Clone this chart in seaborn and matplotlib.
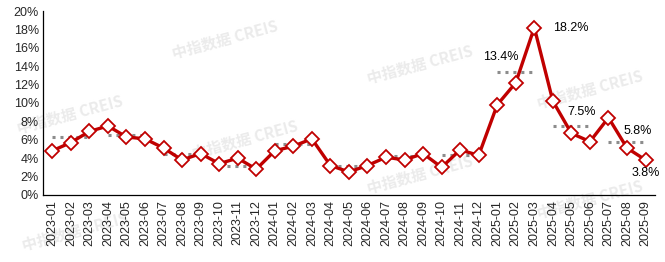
import numpy as np
import pandas as pd
import matplotlib
matplotlib.use("Agg")
import matplotlib.pyplot as plt
import seaborn as sns
from matplotlib.ticker import FixedLocator, PercentFormatter

months = ["2023-01", "2023-02", "2023-03", "2023-04", "2023-05", "2023-06",
          "2023-07", "2023-08", "2023-09", "2023-10", "2023-11", "2023-12",
          "2024-01", "2024-02", "2024-03", "2024-04", "2024-05", "2024-06",
          "2024-07", "2024-08", "2024-09", "2024-10", "2024-11", "2024-12",
          "2025-01", "2025-02", "2025-03", "2025-04", "2025-05", "2025-06",
          "2025-07", "2025-08", "2025-09"]
values = [4.8, 5.7, 6.9, 7.5, 6.3, 6.1, 5.1, 3.8, 4.5, 3.4, 4.0, 2.8,
          4.8, 5.3, 6.1, 3.2, 2.5, 3.2, 4.1, 3.8, 4.5, 3.0, 4.9, 4.3,
          9.8, 12.2, 18.2, 10.2, 6.7, 5.8, 8.4, 5.1, 3.8]
quarter_avg = [6.3, 6.5, 4.5, 3.2, 5.5, 3.1, 4.2, 4.3, 13.4, 7.5, 5.8]
label_texts = ["13.4%", "18.2%", "7.5%", "5.8%", "3.8%"]

sns.set_theme(style="white")
plt.rcParams["font.family"] = ["Liberation Sans", "Noto Sans CJK SC", "DejaVu Sans"]

df = pd.DataFrame({"idx": np.arange(len(months)), "month": months, "value": values})
avg_rows = []
for q, a in enumerate(quarter_avg):
    for k in (0, 2):
        avg_rows.append({"q": q, "idx": q * 3 + k, "avg": a})
avg_df = pd.DataFrame(avg_rows)

fig = plt.figure(figsize=(6.65, 2.62), dpi=100)
ax = fig.add_axes([0.0647, 0.256, 0.920, 0.702])
ax.set_zorder(2)

# watermark
wm_pos = [(225, 40), (70, 115), (245, 140), (420, 65), (420, 175),
          (590, 90), (590, 200), (75, 232)]
for (px, py) in wm_pos:
    fig.text(px / 665, 1 - py / 262, "中指数据 CREIS", rotation=15, ha="center",
             va="center", fontsize=11, fontweight="bold", color="#ebebeb",
             family=["Noto Sans CJK SC", "DejaVu Sans"], zorder=0)

sns.lineplot(data=avg_df, x="idx", y="avg", units="q", estimator=None,
             color="#8c8c8c", linestyle=(0, (1, 1.6)), linewidth=2.2, ax=ax, zorder=2)
sns.lineplot(data=df, x="idx", y="value", color="#c00000", linewidth=2.4,
             marker="D", markersize=7, markerfacecolor="white",
             markeredgecolor="#c00000", markeredgewidth=1.3, ax=ax, zorder=3)

ax.set_xlim(-0.5, len(months) - 0.5)
ax.set_ylim(0, 20)
ax.set_xticks(df["idx"])
ax.set_xticklabels(months, rotation=90, fontsize=9)
ax.xaxis.set_minor_locator(FixedLocator(np.arange(-0.5, len(months), 1)))
ax.tick_params(axis="x", which="major", length=0, pad=4)
ax.tick_params(axis="x", which="minor", length=5, width=0.8, direction="in", color="black")
ax.set_yticks(np.arange(0, 21, 2))
ax.yaxis.set_major_formatter(PercentFormatter(decimals=0))
ax.tick_params(axis="y", length=0, labelsize=9, pad=3)
ax.set_xlabel("")
ax.set_ylabel("")
for s in ["top", "right"]:
    ax.spines[s].set_visible(False)
for s in ["left", "bottom"]:
    ax.spines[s].set_color("black")
    ax.spines[s].set_linewidth(0.9)
ax.set_facecolor("none")
ax.patch.set_alpha(0)

# labels
ann = [(24, quarter_avg[8], label_texts[0], 0.2, 1.55),
       (26, values[26], label_texts[1], 1.95, 0.0),
       (28, quarter_avg[9], label_texts[2], 0.55, 1.5),
       (31, quarter_avg[10], label_texts[3], 0.6, 1.1),
       (32, values[32], label_texts[4], 0.0, -1.45)]
for x, y, t, dx, dy in ann:
    ax.text(x + dx, y + dy, t, fontsize=9, color="black", ha="center", va="center",
            clip_on=False)

fig.savefig("out.png", dpi=100)
